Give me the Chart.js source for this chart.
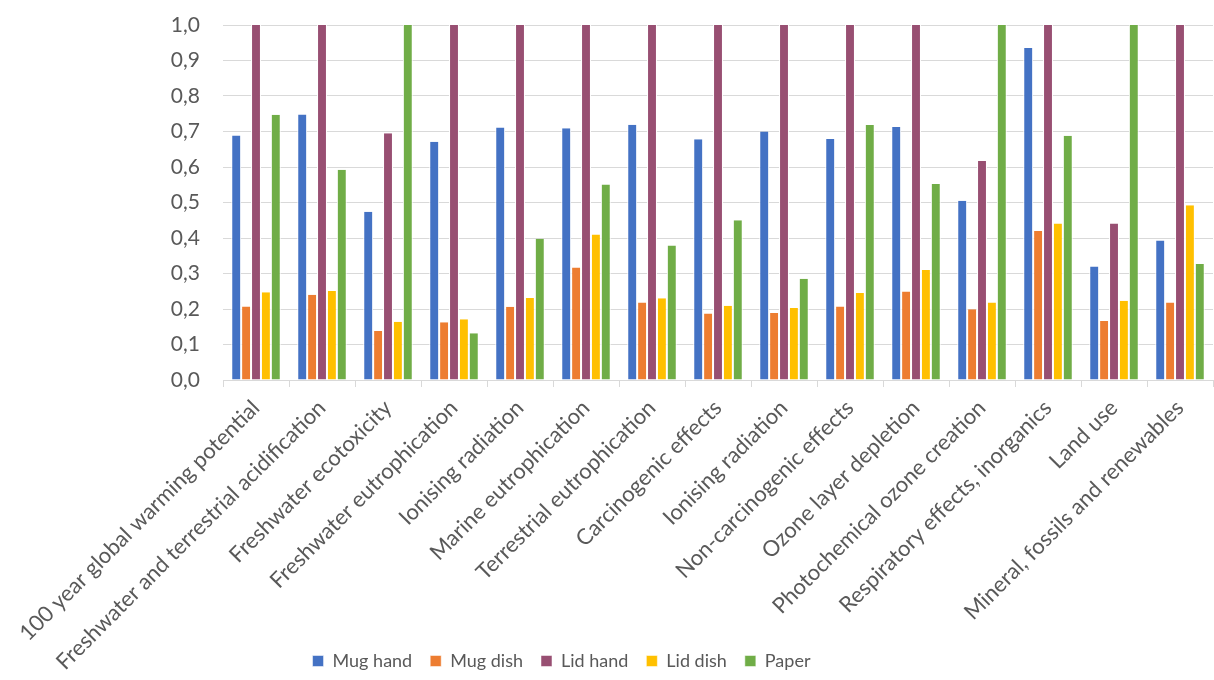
<!DOCTYPE html>
<html>
<head>
<meta charset="utf-8">
<script src="https://cdn.jsdelivr.net/npm/chart.js@4"></script>
<style>
  html, body { margin: 0; padding: 0; background: #fff; }
  #wrap { width: 1214px; height: 680px; }
</style>
</head>
<body>
<div id="wrap"><canvas id="impact-chart"></canvas></div>
<script>
const categories = [
    '100 year global warming potential',
    'Freshwater and terrestrial acidification',
    'Freshwater ecotoxicity',
    'Freshwater eutrophication',
    'Ionising radiation',
    'Marine eutrophication',
    'Terrestrial eutrophication',
    'Carcinogenic effects',
    'Ionising radiation',
    'Non-carcinogenic effects',
    'Ozone layer depletion',
    'Photochemical ozone creation',
    'Respiratory effects, inorganics',
    'Land use',
    'Mineral, fossils and renewables'
];

const mugHand = [0.689, 0.748, 0.474, 0.671, 0.711, 0.709, 0.719, 0.678, 0.700, 0.679, 0.713, 0.505, 0.935, 0.320, 0.393];
const mugDish = [0.207, 0.240, 0.138, 0.163, 0.206, 0.317, 0.218, 0.187, 0.189, 0.207, 0.249, 0.199, 0.420, 0.166, 0.218];
const lidHand = [1.0, 1.0, 0.695, 1.0, 1.0, 1.0, 1.0, 1.0, 1.0, 1.0, 1.0, 0.617, 1.0, 0.441, 1.0];
const lidDish = [0.247, 0.251, 0.164, 0.171, 0.231, 0.410, 0.230, 0.209, 0.203, 0.245, 0.310, 0.218, 0.441, 0.223, 0.492];
const paper   = [0.747, 0.592, 1.0, 0.132, 0.398, 0.551, 0.379, 0.450, 0.285, 0.718, 0.552, 1.0, 0.688, 1.0, 0.327];

const seriesNames = ['Mug hand', 'Mug dish', 'Lid hand', 'Lid dish', 'Paper'];
const seriesColors = ['#4472c4', '#ed7d31', '#984f72', '#ffc000', '#70ad47'];
const seriesValues = [mugHand, mugDish, lidHand, lidDish, paper];

const fontFamily = 'Lato, "Open Sans", sans-serif';

// the original legend sits a bit left of the page centre
const legendShift = {
    id: 'legendShift',
    afterLayout(chart) {
        chart.legend.left -= 50;
        chart.legend.right -= 50;
    }
};

const ctx = document.getElementById('impact-chart').getContext('2d');

new Chart(ctx, {
    type: 'bar',
    data: {
        labels: categories,
        datasets: seriesNames.map((name, i) => ({
            label: name,
            data: seriesValues[i],
            backgroundColor: seriesColors[i],
            borderColor: '#ffffff',
            borderWidth: { left: 1, right: 1, top: 0, bottom: 0 },
            borderSkipped: false,
            categoryPercentage: 0.75,
            barPercentage: 1.0
        }))
    },
    plugins: [legendShift],
    options: {
        responsive: true,
        maintainAspectRatio: false,
        animation: false,
        layout: {
            padding: { top: 25, right: 1, left: 10, bottom: 0 }
        },
        scales: {
            y: {
                min: 0,
                max: 1,
                afterFit: function(scale) {
                    scale.width = 213;
                    scale.paddingTop = 0;
                },
                ticks: {
                    stepSize: 0.1,
                    color: '#595959',
                    font: { family: fontFamily, size: 21 },
                    padding: 23,
                    callback: function(value) {
                        return value.toFixed(1).replace('.', ',');
                    }
                },
                grid: {
                    color: '#d9d9d9',
                    lineWidth: 1,
                    drawTicks: false
                },
                border: { display: false }
            },
            x: {
                afterFit: function(scale) {
                    // long labels run down past the axis box, like the original
                    scale.height = 254;
                    scale._computeLabelArea = function() { return undefined; };
                },
                ticks: {
                    color: '#595959',
                    font: { family: fontFamily, size: 22 },
                    minRotation: 45,
                    maxRotation: 45,
                    autoSkip: false,
                    padding: 8
                },
                grid: {
                    offset: true,
                    drawOnChartArea: false,
                    color: '#d9d9d9',
                    tickLength: 7
                },
                border: { color: '#d9d9d9', width: 1 }
            }
        },
        plugins: {
            legend: {
                position: 'bottom',
                labels: {
                    color: '#595959',
                    font: { family: fontFamily, size: 18 },
                    boxWidth: 11,
                    boxHeight: 11,
                    padding: 18
                }
            },
            tooltip: { enabled: false }
        }
    }
});
</script>
</body>
</html>
